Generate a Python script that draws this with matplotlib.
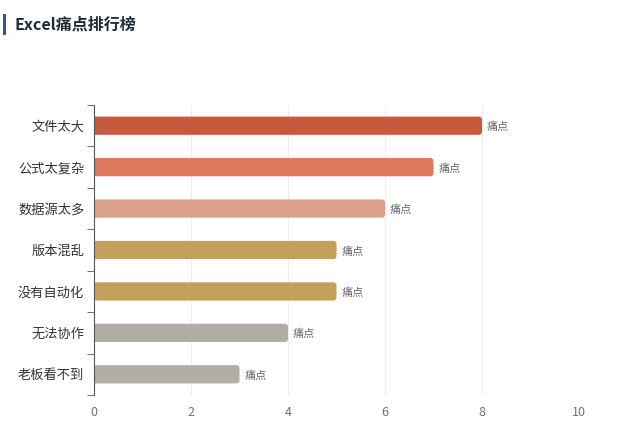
import matplotlib
matplotlib.use("Agg")
import matplotlib.pyplot as plt
from matplotlib.patches import FancyBboxPatch, Rectangle

plt.rcParams["font.family"] = ["Noto Sans CJK SC", "DejaVu Sans"]

categories = ["文件太大", "公式太复杂", "数据源太多", "版本混乱", "没有自动化", "无法协作", "老板看不到"]
values = [8, 7, 6, 5, 5, 4, 3]
colors = ["#c65a3e", "#de7a5b", "#d9a189", "#c4a15a", "#c4a15a", "#b0aea5", "#b0aea5"]
bar_label = "痛点"
xticks = [0, 2, 4, 6, 8, 10]

fig = plt.figure(figsize=(6.3, 4.43), dpi=100)
ax = fig.add_axes([94 / 630, 1 - 395 / 443, 485 / 630, 290 / 443])

n = len(categories)
ax.set_xlim(0, 10)
ax.set_ylim(n - 0.5, -0.5)

# pixel size of one data unit, for rounded corners
px_x = 485 / 10
px_y = 290 / n
r = 3 / px_x
h = 0.44

for i, (v, c) in enumerate(zip(values, colors)):
    box = FancyBboxPatch((-r * 2, i - h / 2), v + r * 2, h,
                         boxstyle=f"round,pad=0,rounding_size={r}",
                         mutation_aspect=px_x / px_y,
                         facecolor=c, edgecolor="none", zorder=3)
    ax.add_patch(box)
    ax.text(v + 0.1, i + 0.03, bar_label, va="center", ha="left",
            fontsize=8, color="#666666", zorder=4)

ax.set_yticks(range(n))
ax.set_yticklabels(categories, fontsize=9.5, color="#333333")
ax.tick_params(axis="y", which="major", length=0, pad=7)
ax.set_yticks([i - 0.5 for i in range(n + 1)], minor=True)
ax.tick_params(axis="y", which="minor", length=5, color="#555555")

ax.set_xticks(xticks)
ax.set_xticklabels([str(t) for t in xticks], fontsize=9, color="#6e7079")
ax.tick_params(axis="x", length=0, pad=8)
ax.grid(axis="x", color="#eeeeee", linewidth=0.8, zorder=0)

for s in ["top", "right", "bottom"]:
    ax.spines[s].set_visible(False)
ax.spines["left"].set_color("#555555")
ax.spines["left"].set_zorder(5)

fig.patches.append(Rectangle((3 / 630, 1 - 35 / 443), 3 / 630, 21 / 443,
                             transform=fig.transFigure, facecolor="#2e5b7c",
                             edgecolor="none"))
fig.text(15 / 630, 1 - 25 / 443, "Excel痛点排行榜", fontsize=11.5,
         fontweight="bold", color="#1c2b3a", va="center", ha="left")

fig.savefig("out.png", dpi=100)
